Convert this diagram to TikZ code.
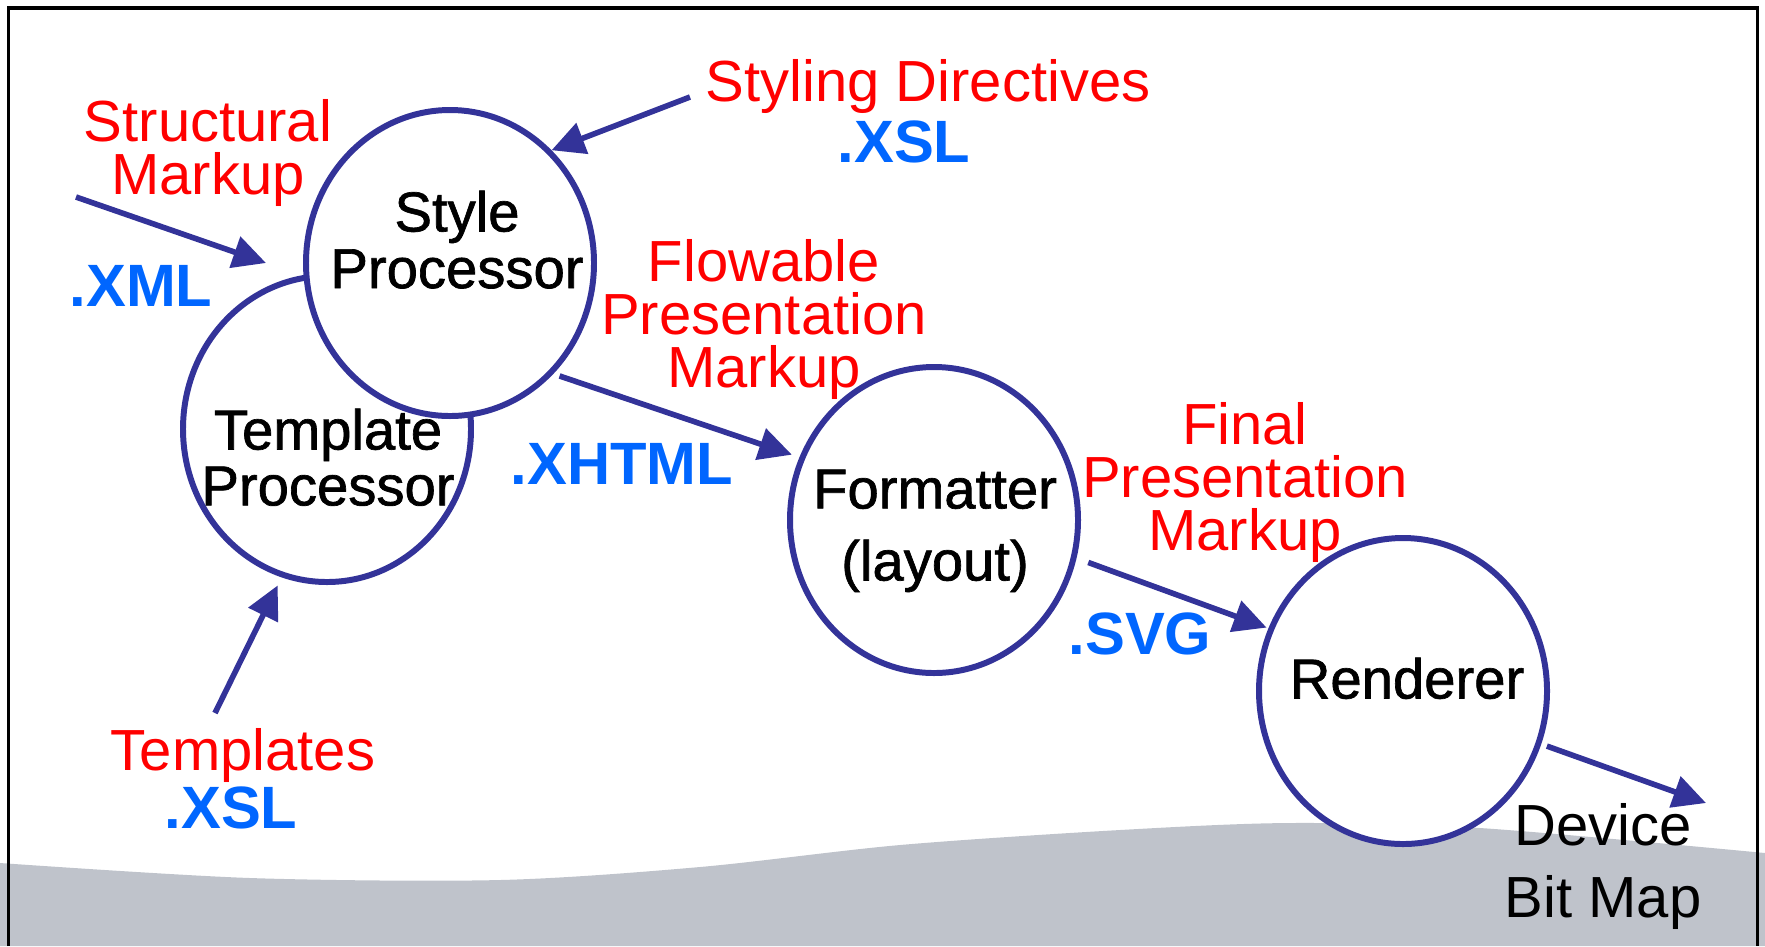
\documentclass[tikz,border=0pt]{standalone}
\usepackage{fontspec}
\setmainfont{Liberation Sans}
\newfontfamily\procfont{Liberation Sans}[FakeBold=1.2]
\usetikzlibrary{arrows.meta,shapes.geometric}
\definecolor{procblue}{RGB}{51,51,153}
\definecolor{extblue}{RGB}{0,102,255}
\definecolor{wavegray}{RGB}{191,195,203}

\begin{document}
\begin{tikzpicture}[
    proc/.style = {ellipse, draw=procblue, line width=1.7pt, fill=white,
                   minimum width=2.88cm, minimum height=3.06cm, inner sep=0pt},
    proctext/.style = {anchor=north, inner sep=0pt, align=center,
                       font=\procfont\fontsize{16}{16.1}\selectfont},
    note/.style = {anchor=north, inner sep=0pt, align=center, text=red,
                   font=\fontsize{16.5}{15.1}\selectfont},
    ext/.style = {anchor=north, inner sep=0pt, text=extblue,
                  font=\bfseries\fontsize{17}{17}\selectfont},
    flow/.style = {draw=procblue, line width=1.6pt,
                   -{Triangle[length=0.33cm,width=0.32cm]}}]

    \useasboundingbox (0,0) rectangle (17.65,-9.46);

    % background
    \fill[wavegray] plot[smooth] coordinates {(0,-8.63) (2.5,-8.78) (5.0,-8.80)
        (7.0,-8.67) (9.0,-8.45) (11.2,-8.30) (12.9,-8.23) (14.8,-8.28) (17.65,-8.53)}
        -- (17.65,-9.46) -- (0,-9.46) -- cycle;

    % processors
    \node[proc] (tmpl)  at (3.27,-4.29) {};
    \node[proc] (style) at (4.50,-2.63) {};
    \node[proc] (fmt)   at (9.34,-5.20) {};
    \node[proc] (rend)  at (14.03,-6.91) {};

    \node[proctext] (style-txt) at (4.57,-1.90) {Style\\Processor};
    \node[proctext,font=\procfont\fontsize{16}{15.9}\selectfont] (tmpl-txt) at (3.28,-4.08) {Template\\Processor};
    \node[proctext,font=\procfont\fontsize{16}{20.5}\selectfont] (fmt-txt) at (9.35,-4.69) {Formatter\\(layout)};
    \node[proctext] (rend-txt) at (14.07,-6.57) {Renderer};

    % inputs and outputs
    \node[note] (struct) at (2.08,-0.99) {Structural\\Markup};
    \node[ext]  (xml)    at (1.41,-2.65) {.XML};
    \node[note] (styling) at (9.28,-0.59) {Styling Directives};
    \node[ext]  (xsl-top) at (9.04,-1.20) {.XSL};
    \node[note] (flowable) at (7.64,-2.39) {Flowable\\Presentation\\Markup};
    \node[ext]  (xhtml)  at (6.22,-4.43) {.XHTML};
    \node[note] (final)  at (12.45,-4.02) {Final\\Presentation\\Markup};
    \node[ext]  (svg)    at (11.40,-6.12) {.SVG};
    \node[note] (templates) at (2.43,-7.28) {Templates};
    \node[ext]  (xsl-bot) at (2.31,-7.86) {.XSL};
    \node[anchor=north, inner sep=0pt, align=center,
          font=\fontsize{16.5}{20.5}\selectfont] (device) at (16.03,-8.03) {Device\\Bit Map};

    % connectors
    \coordinate (xml-in) at (0.76,-1.97);
    \coordinate (xsl-in) at (6.90,-0.97);
    \coordinate (tpl-in) at (2.15,-7.13);
    \coordinate (bitmap-out) at (17.06,-8.03);

    \draw[flow] (xml-in) -- ([xshift=-0.37cm]style.west);
    \draw[flow] (xsl-in) -- (style.48);
    \draw[flow,shorten >=0.09cm] (tpl-in) -- (tmpl.-107);
    \draw[flow,shorten <=0.065cm,shorten >=0.08cm] (style.-47) -- (fmt.155);
    \draw[flow,shorten <=0.125cm,shorten >=0.02cm] (fmt.-15) -- (rend.155.5);
    \draw[flow,shorten <=0.06cm] (rend.-21.5) -- (bitmap-out);

    % frame
    \draw[line width=0.9pt] (0.085,-9.46) -- (0.085,-0.08) -- (17.575,-0.08) -- (17.575,-9.46);

\end{tikzpicture}
\end{document}
